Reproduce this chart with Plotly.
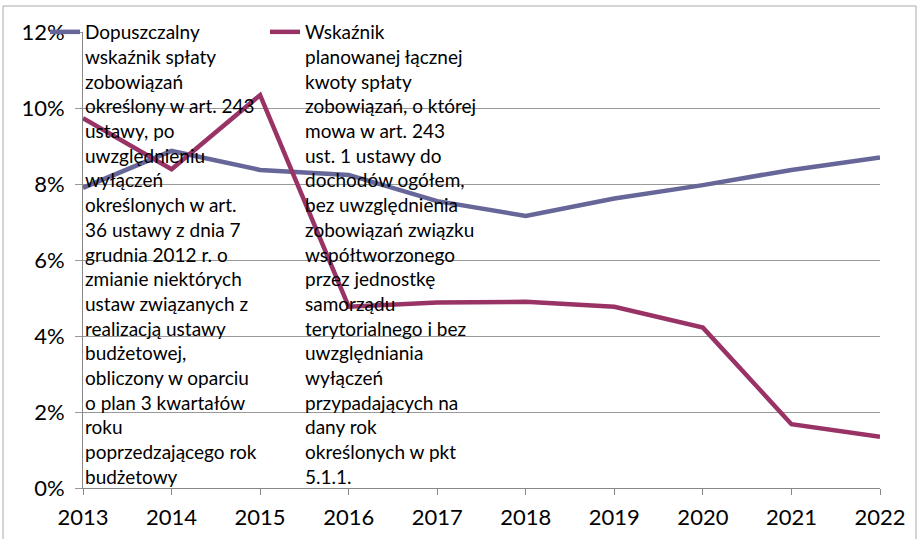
import plotly.graph_objects as go

years = [2013, 2014, 2015, 2016, 2017, 2018, 2019, 2020, 2021, 2022]
dopuszczalny = [7.9, 8.87, 8.37, 8.24, 7.55, 7.16, 7.62, 7.97, 8.37, 8.70]
wskaznik = [9.73, 8.39, 10.34, 4.77, 4.88, 4.90, 4.77, 4.22, 1.68, 1.35]

name1 = ("Dopuszczalny<br>wskaźnik spłaty<br>zobowiązań<br>określony w art. 243<br>ustawy, po<br>"
         "uwzględnieniu<br>wyłączeń<br>określonych w art.<br>36 ustawy z dnia 7<br>grudnia 2012 r. o<br>"
         "zmianie niektórych<br>ustaw związanych z<br>realizacją ustawy<br>budżetowej,<br>"
         "obliczony w oparciu<br>o plan 3 kwartałów<br>roku<br>poprzedzającego rok<br>budżetowy")
name2 = ("Wskaźnik<br>planowanej łącznej<br>kwoty spłaty<br>zobowiązań, o której<br>mowa w art. 243<br>"
         "ust. 1 ustawy do<br>dochodów ogółem,<br>bez uwzględnienia<br>zobowiązań związku<br>"
         "współtworzonego<br>przez jednostkę<br>samorządu<br>terytorialnego i bez<br>uwzględniania<br>"
         "wyłączeń<br>przypadających na<br>dany rok<br>określonych w pkt<br>5.1.1.")

y_ticks = [0, 2, 4, 6, 8, 10, 12]
y_tick_labels = ["0%", "2%", "4%", "6%", "8%", "10%", "12%"]

W, H = 917, 539
ml, mr, mt, mb = 83, 37, 32, 51
pw, ph = W - ml - mr, H - mt - mb

def px_x(p):
    return (p - ml) / pw

def px_y(p):
    return (H - mb - p) / ph

fig = go.Figure()
fig.add_trace(go.Scatter(x=years, y=dopuszczalny, mode="lines", name=name1,
                         line=dict(color="#666699", width=4.5)))
fig.add_trace(go.Scatter(x=years, y=wskaznik, mode="lines", name=name2,
                         line=dict(color="#993366", width=4.5)))

fig.update_layout(
    width=W, height=H,
    margin=dict(l=ml, r=mr, t=mt, b=mb, autoexpand=False),
    paper_bgcolor="white", plot_bgcolor="white",
    font=dict(family="Lato", size=19, color="black"),
    showlegend=True,
    legend=dict(orientation="h", x=px_x(45), y=px_y(13), xanchor="left", yanchor="top",
                valign="top", bgcolor="rgba(0,0,0,0)", entrywidth=175, entrywidthmode="pixels",
                maxheight=700,
                font=dict(family="Lato", size=19, color="black"), traceorder="normal"),
    xaxis=dict(range=[2013, 2022], tickmode="array", tickvals=years, ticktext=[str(y) for y in years],
               showgrid=False, showline=True, linecolor="#888888", linewidth=1, automargin=False,
               ticks="outside", ticklen=6, tickcolor="#888888", ticklabelstandoff=4,
               tickfont=dict(family="Lato", size=22, color="black"), zeroline=False),
    yaxis=dict(range=[0, 12], tickmode="array", tickvals=y_ticks, ticktext=y_tick_labels,
               showgrid=True, gridcolor="#999999", gridwidth=1,
               showline=True, linecolor="#888888", linewidth=1, automargin=False,
               ticks="outside", ticklen=7, tickcolor="#999999", ticklabelstandoff=6,
               tickfont=dict(family="Lato", size=22, color="black"), zeroline=False),
    shapes=[dict(type="rect", xref="paper", yref="paper",
                 x0=px_x(3), x1=px_x(916), y0=px_y(545), y1=px_y(6),
                 line=dict(color="#aaaaaa", width=1), fillcolor="rgba(0,0,0,0)", layer="below")],
)

fig.write_html("out.html", config={"displayModeBar": False},
               post_script="document.body.style.margin='0';")
